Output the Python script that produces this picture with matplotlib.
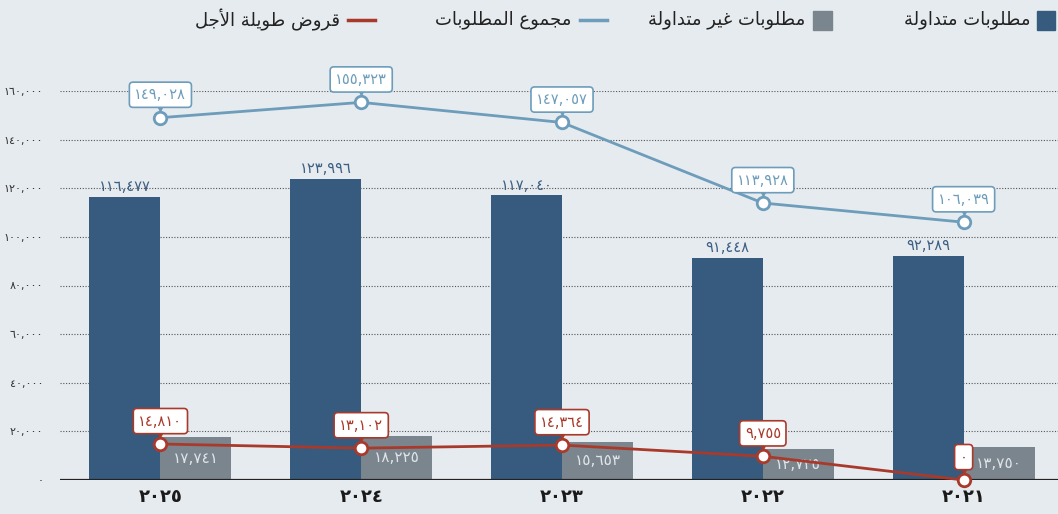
import matplotlib
matplotlib.use("Agg")
import matplotlib.pyplot as plt
from matplotlib.patches import Rectangle
from matplotlib.lines import Line2D
from matplotlib.ticker import FuncFormatter, MultipleLocator
from matplotlib.transforms import offset_copy
import numpy as np

# data
years = ["2025", "2024", "2023", "2022", "2021"]
current = [116477, 123996, 117040, 91448, 92289]
non_current = [17741, 18225, 15653, 12725, 13750]
total = [149028, 155323, 147057, 113928, 106039]
long_loans = [14810, 13102, 14364, 9755, 0]

LBL_CURRENT = "مطلوبات متداولة"
LBL_NONCURRENT = "مطلوبات غير متداولة"
LBL_TOTAL = "مجموع المطلوبات"
LBL_LOANS = "قروض طويلة الأجل"

C_CUR = "#365b7e"
C_NON = "#7b858e"
C_TOT = "#6d9dbb"
C_LOAN = "#a93a2b"
BG = "#e6ebef"

W, H = 1058, 514
DIGITS = str.maketrans("0123456789", "٠١٢٣٤٥٦٧٨٩")

# --- tiny arabic shaper (matplotlib has no complex text layout) ---
RIGHT_ONLY = {"ا": 0xFE8D, "أ": 0xFE83, "د": 0xFEA9, "ر": 0xFEAD, "و": 0xFEED,
              "ة": 0xFE93, "لا": 0xFEFB, "لأ": 0xFEF7}
DUAL = {"ب": 0xFE8F, "ت": 0xFE95, "ج": 0xFE9D, "ض": 0xFEBD, "ط": 0xFEC1,
        "ع": 0xFEC9, "غ": 0xFECD, "ق": 0xFED5, "ل": 0xFEDD, "م": 0xFEE1, "ي": 0xFEF1}


def shape(text):
    words = []
    for word in text.split(" "):
        g, i = [], 0
        while i < len(word):
            if word[i] == "ل" and i + 1 < len(word) and word[i + 1] in "اأ":
                g.append("ل" + word[i + 1]); i += 2
            else:
                g.append(word[i]); i += 1
        out = ""
        for k, c in enumerate(g):
            prev = g[k - 1] if k > 0 else None
            nxt = g[k + 1] if k + 1 < len(g) else None
            jp = prev in DUAL
            jn = c in DUAL and nxt is not None
            if c in DUAL:
                base = DUAL[c]
                off = 3 if (jp and jn) else 1 if jp else 2 if jn else 0
            elif c in RIGHT_ONLY:
                base = RIGHT_ONLY[c]
                off = 1 if jp else 0
            else:
                out += c; continue
            out += chr(base + off)
        words.append(out)
    return " ".join(words)[::-1]


def ar_num(v):
    return f"{int(v):,}".translate(DIGITS)


def px(xp, yp):
    return (xp / W, 1 - yp / H)


fig = plt.figure(figsize=(W / 100, H / 100), dpi=100)
fig.patch.set_facecolor(BG)
ax = fig.add_axes([60 / W, (H - 480) / H, (W - 60) / W, (480 - 91) / H])
ax.set_facecolor(BG)

x = np.arange(len(years))
bw = 0.354
ax.bar(x - bw / 2, current, bw, color=C_CUR, zorder=2)
ax.bar(x + bw / 2, non_current, bw, color=C_NON, zorder=2)

ax.set_ylim(0, 160000)
ax.set_xlim(-0.5, 4.47)
ax.yaxis.set_major_locator(MultipleLocator(20000))
ax.yaxis.set_major_formatter(FuncFormatter(lambda v, p: ar_num(v)))
ax.yaxis.grid(True, linestyle=(0, (1, 1.5)), color="#555555", lw=0.8)
ax.set_axisbelow(True)
for s in ax.spines.values():
    s.set_visible(False)
ax.axhline(0, color="#222222", lw=1.6, zorder=3)
ax.tick_params(axis="y", length=0, pad=12, labelsize=8, labelcolor="#333333")
ax.tick_params(axis="x", length=0, pad=6)
ax.set_xticks(x)
ax.set_xticklabels([y.translate(DIGITS) for y in years], fontsize=13,
                   fontweight="bold", color="#1a1a1a")

for xi, v in zip(x, current):
    ax.annotate(ar_num(v), (xi - bw / 2, v), xytext=(0, 2), textcoords="offset points",
                ha="center", va="bottom", color="#3d5f82", fontsize=10.5, zorder=5)
for xi, v in zip(x, non_current):
    ax.text(xi + bw / 2, v / 2, ar_num(v), ha="center", va="center",
            color="#dfe4e8", fontsize=11, zorder=3)


def line_with_boxes(vals, color):
    ax.plot(x, vals, color=color, lw=2, marker="o", ms=9, mfc="white", mec=color,
            mew=2, zorder=5, clip_on=False)
    tri = offset_copy(ax.transData, fig=fig, x=0, y=7.3, units="points")
    for xi, v in zip(x, vals):
        ax.plot(xi, v, marker="v", ms=4.5, color=color, transform=tri, zorder=6, clip_on=False)
        ax.annotate(ar_num(v), (xi, v), xytext=(0, 16.5), textcoords="offset points",
                    ha="center", va="center", color=color, fontsize=10.5, zorder=7,
                    bbox=dict(boxstyle="round,pad=0.35,rounding_size=0.25", fc="white",
                              ec=color, lw=1.2), annotation_clip=False)


line_with_boxes(total, C_TOT)
line_with_boxes(long_loans, C_LOAN)

# legend, drawn right-to-left like the original
fig.add_artist(Rectangle(px(1037, 30), 18 / W, 19 / H, transform=fig.transFigure, color=C_CUR))
fig.text(*px(1030, 20), shape(LBL_CURRENT), ha="right", va="center", fontsize=13, color="#222222")
fig.add_artist(Rectangle(px(813, 30), 19 / W, 19 / H, transform=fig.transFigure, color=C_NON))
fig.text(*px(805, 20), shape(LBL_NONCURRENT), ha="right", va="center", fontsize=13, color="#222222")
fig.add_artist(Line2D([580 / W, 607 / W], [1 - 20 / H] * 2, transform=fig.transFigure,
                      color=C_TOT, lw=2.5))
fig.text(*px(571, 20), shape(LBL_TOTAL), ha="right", va="center", fontsize=13, color="#222222")
fig.add_artist(Line2D([348 / W, 375 / W], [1 - 20 / H] * 2, transform=fig.transFigure,
                      color=C_LOAN, lw=2.5))
fig.text(*px(340, 20), shape(LBL_LOANS), ha="right", va="center", fontsize=13, color="#222222")

fig.savefig("out.png", dpi=100, facecolor=BG)
